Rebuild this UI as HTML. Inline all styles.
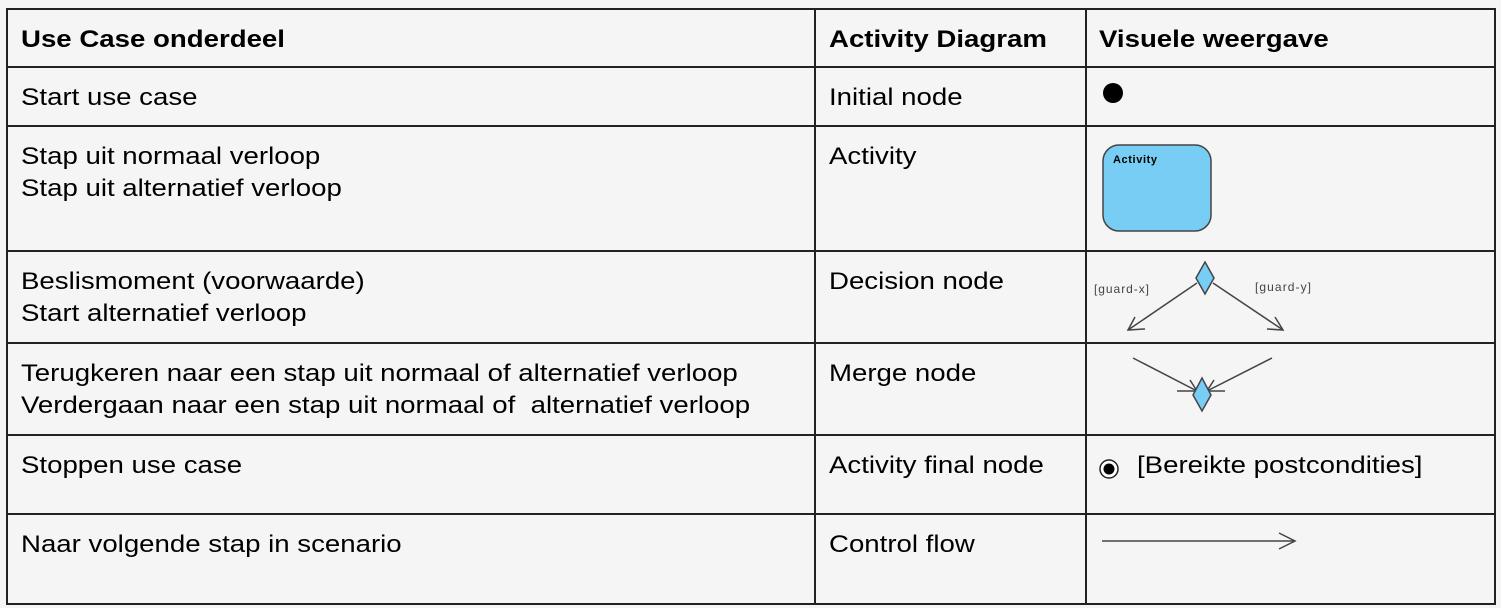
<!DOCTYPE html>
<html><head><meta charset="utf-8"><style>
body{margin:0;background:#f5f5f5;width:1501px;height:608px;overflow:hidden;position:relative;font-family:"Liberation Sans",Arial,sans-serif;color:#000}
.t{position:absolute;font-size:24.5px;line-height:32px;white-space:pre;transform:scaleX(1.127);transform-origin:0 0}
.b{font-weight:bold}
svg{position:absolute;left:0;top:0}
</style></head><body>
<svg width="1501" height="608">
<g stroke="#222" stroke-width="2" fill="none">
<rect x="7" y="9" width="1488" height="595"/>
<line x1="7" y1="67" x2="1495" y2="67"/>
<line x1="7" y1="126" x2="1495" y2="126"/>
<line x1="7" y1="251" x2="1495" y2="251"/>
<line x1="7" y1="343" x2="1495" y2="343"/>
<line x1="7" y1="435" x2="1495" y2="435"/>
<line x1="7" y1="514" x2="1495" y2="514"/>
<line x1="815" y1="9" x2="815" y2="604"/>
<line x1="1086" y1="9" x2="1086" y2="604"/>
</g>
<circle cx="1113" cy="93" r="10" fill="#000"/>
<rect x="1103" y="145" width="108" height="86" rx="16" fill="#77cdf3" stroke="#444" stroke-width="1.5"/>
<text x="1113" y="163" font-family="Liberation Sans,Arial,sans-serif" font-size="11" font-weight="bold" textLength="44">Activity</text>
<g stroke="#444" stroke-width="1.5" fill="none">
<line x1="1197" y1="283" x2="1128" y2="330"/>
<polyline points="1135,317 1128,330 1145,329"/>
<line x1="1213" y1="283" x2="1283" y2="330"/>
<polyline points="1267,329 1283,330 1275,317"/>
<line x1="1133" y1="358" x2="1197" y2="391"/>
<line x1="1272" y1="358" x2="1207" y2="391"/>
<line x1="1177" y1="391" x2="1225" y2="391"/>
<line x1="1190" y1="380" x2="1197" y2="391"/>
<line x1="1214" y1="380" x2="1207" y2="391"/>
<line x1="1102" y1="541" x2="1295" y2="541"/>
<polyline points="1279,533 1295,541 1279,549"/>
</g>
<polygon points="1205,262 1214,278 1205,294 1196,278" fill="#77cdf3" stroke="#444" stroke-width="1.5"/>
<polygon points="1202,378 1211,395 1202,411 1193,395" fill="#77cdf3" stroke="#444" stroke-width="1.5"/>
<text x="1094" y="293" font-family="Liberation Sans,Arial,sans-serif" font-size="12" fill="#444" textLength="55">[guard-x]</text>
<text x="1255" y="291" font-family="Liberation Sans,Arial,sans-serif" font-size="12" fill="#444" textLength="56">[guard-y]</text>
<circle cx="1109" cy="469" r="9" fill="#fff" stroke="#222" stroke-width="1.5"/>
<circle cx="1109" cy="469" r="5.5" fill="#000"/>
</svg>
<div class="t b" style="left:21px;top:24px">Use Case onderdeel</div>
<div class="t b" style="left:829px;top:24px">Activity Diagram</div>
<div class="t b" style="left:1099px;top:24px">Visuele weergave</div>
<div class="t" style="left:21px;top:82px">Start use case</div>
<div class="t" style="left:829px;top:82px">Initial node</div>
<div class="t" style="left:21px;top:141px">Stap uit normaal verloop
Stap uit alternatief verloop</div>
<div class="t" style="left:829px;top:141px">Activity</div>
<div class="t" style="left:21px;top:266px">Beslismoment (voorwaarde)
Start alternatief verloop</div>
<div class="t" style="left:829px;top:266px">Decision node</div>
<div class="t" style="left:21px;top:358px">Terugkeren naar een stap uit normaal of alternatief verloop
Verdergaan naar een stap uit normaal of  alternatief verloop</div>
<div class="t" style="left:829px;top:358px">Merge node</div>
<div class="t" style="left:21px;top:450px">Stoppen use case</div>
<div class="t" style="left:829px;top:450px">Activity final node</div>
<div class="t" style="left:1137px;top:450px">[Bereikte postcondities]</div>
<div class="t" style="left:21px;top:529px">Naar volgende stap in scenario</div>
<div class="t" style="left:829px;top:529px">Control flow</div>
</body></html>
